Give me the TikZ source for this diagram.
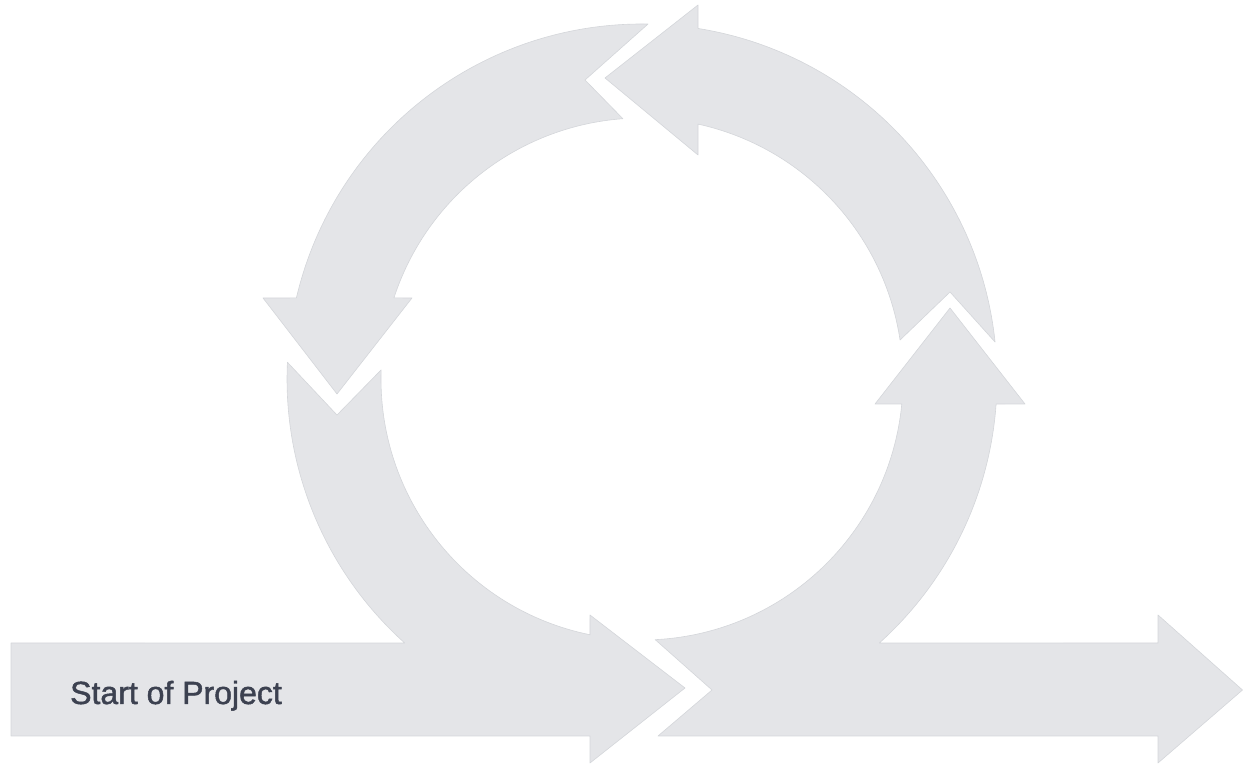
\documentclass[tikz,border=0pt]{standalone}
\usepackage{fontspec}
\setmainfont{Liberation Sans}
\newfontfamily\labelfont[FakeBold=1.5]{Liberation Sans}
\usetikzlibrary{calc}
\definecolor{shapefill}{HTML}{E4E5E8}
\definecolor{shapeedge}{HTML}{D4D6DA}
\definecolor{labeltext}{HTML}{3C4150}
\begin{document}
\begin{tikzpicture}[x=1pt,y=1pt,
  arrowshape/.style={fill=shapefill,draw=shapeedge,line width=0.6pt,line join=round},
  labelstyle/.style={font=\labelfont\fontsize{32}{37}\selectfont,text=labeltext,inner sep=0pt}]
\useasboundingbox (0,0) rectangle (1243,768);
\coordinate (C) at (642,389);
% bottom-left segment merged with the start arrow
\path[arrowshape] (11,125) -- ($(C)+(228.05:355pt)$)
  arc[start angle=228.05,end angle=177.3,radius=355pt]
  -- (337,353) -- ($(C)+(178.0:261pt)$)
  arc[start angle=178.0,end angle=258.5,radius=261pt]
  -- (590,153) -- (685,80) -- (590,5) -- (590,32) -- (11,32) -- cycle;
% top-left segment with downward head
\path[arrowshape] ($(C)+(166.8:355pt)$)
  arc[start angle=166.8,end angle=89.03,radius=355pt]
  -- (585,688) -- ($(C)+(94.2:261pt)$)
  arc[start angle=94.2,end angle=161.9,radius=261pt]
  -- (412,470) -- (337,374) -- (263,470) -- cycle;
% top-right segment with leftward head
\path[arrowshape] (605,690) -- (698,763) -- ($(C)+(80.92:355pt)$)
  arc[start angle=80.92,end angle=5.98,radius=355pt]
  -- (950,476) -- ($(C)+(8.59:261pt)$)
  arc[start angle=8.59,end angle=77.61,radius=261pt]
  -- (698,613) -- cycle;
% bottom-right segment with upward head merged with the end arrow
\path[arrowshape] (658,32) -- (712,78) -- ($(C)+(-87.1:261pt)$)
  arc[start angle=-87.1,end angle=-5.49,radius=261pt]
  -- (875,364) -- (950,460) -- (1025,364) -- ($(C)+(-4.04:355pt)$)
  arc[start angle=-4.04,end angle=-48.05,radius=355pt]
  -- (1158,125) -- (1158,153) -- (1242.5,78) -- (1158,5) -- (1158,32) -- cycle;
\node[labelstyle,anchor=base west] (start) at (70,64) {Start of Project};
\end{tikzpicture}
\end{document}
